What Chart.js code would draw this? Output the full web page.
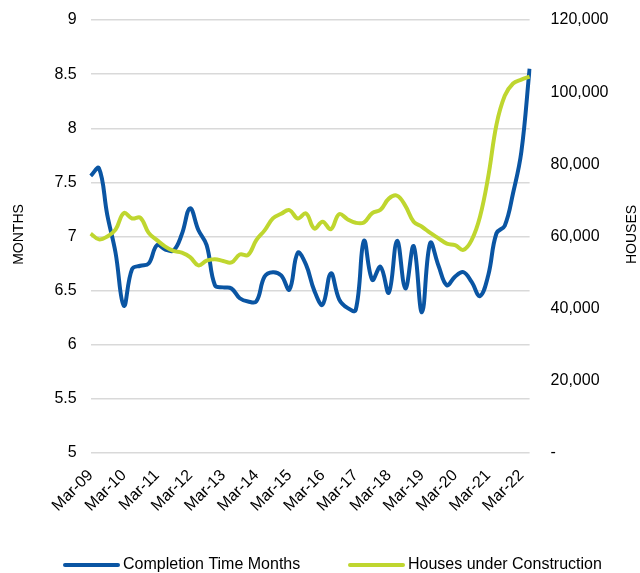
<!DOCTYPE html>
<html>
<head>
<meta charset="utf-8">
<script src="https://cdn.jsdelivr.net/npm/chart.js@4.4.0/dist/chart.umd.min.js"></script>
<style>
html,body{margin:0;padding:0;background:#ffffff;}
#wrap{width:640px;height:573px;position:relative;}
</style>
</head>
<body>
<div id="wrap"><canvas id="c" width="640" height="573"></canvas></div>
<script>
const categories = [
  'Mar-09','Jun-09','Sep-09','Dec-09','Mar-10','Jun-10','Sep-10','Dec-10',
  'Mar-11','Jun-11','Sep-11','Dec-11','Mar-12','Jun-12','Sep-12','Dec-12',
  'Mar-13','Jun-13','Sep-13','Dec-13','Mar-14','Jun-14','Sep-14','Dec-14',
  'Mar-15','Jun-15','Sep-15','Dec-15','Mar-16','Jun-16','Sep-16','Dec-16',
  'Mar-17','Jun-17','Sep-17','Dec-17','Mar-18','Jun-18','Sep-18','Dec-18',
  'Mar-19','Jun-19','Sep-19','Dec-19','Mar-20','Jun-20','Sep-20','Dec-20',
  'Mar-21','Jun-21','Sep-21','Dec-21','Mar-22','Jun-22'
];
const completionMonths = [
  7.56, 7.63, 7.20, 6.85, 6.36, 6.70, 6.73, 6.75,
  6.92, 6.88, 6.87, 7.02, 7.26, 7.06, 6.92, 6.55,
  6.53, 6.52, 6.43, 6.40, 6.40, 6.63, 6.67, 6.64,
  6.51, 6.85, 6.74, 6.50, 6.37, 6.66, 6.42, 6.34,
  6.32, 6.96, 6.60, 6.72, 6.48, 6.96, 6.52, 6.91,
  6.30, 6.94, 6.73, 6.55, 6.63, 6.67, 6.58, 6.45,
  6.64, 7.03, 7.10, 7.40, 7.78, 8.55
];
const housesUnderConstruction = [
  60800, 59200, 60000, 61900, 66500, 65000, 65200, 61000,
  59000, 57200, 56000, 55500, 54300, 52000, 53300, 53700,
  53200, 52800, 55000, 54900, 59000, 61700, 65000, 66300,
  67300, 65000, 66400, 62200, 64100, 62000, 66200, 64800,
  63800, 63900, 66500, 67400, 70500, 71300, 68500, 64100,
  62700, 61000, 59500, 58000, 57600, 56300, 59000, 65400,
  76500, 91000, 99000, 102400, 103500, 104300
];
const leftTickLabels = ['5', '5.5', '6', '6.5', '7', '7.5', '8', '8.5', '9'];
const rightTickLabels = ['-', '20,000', '40,000', '60,000', '80,000', '100,000', '120,000'];
const seriesNames = ['Completion Time Months', 'Houses under Construction'];
const axisTitles = ['MONTHS', 'HOUSES'];

const FONT = "'Liberation Sans', Arial, Helvetica, sans-serif";
const BLUE = '#0A55A3';
const GREEN = '#BFD62F';
const TEXT = '#000000';

// Axis titles (both read bottom-to-top) and the legend row
const decorPlugin = {
  id: 'decorPlugin',
  afterDraw(chart) {
    const ctx = chart.ctx;
    const area = chart.chartArea;
    ctx.save();
    ctx.font = '14px ' + FONT;
    ctx.fillStyle = TEXT;
    ctx.textAlign = 'center';
    ctx.textBaseline = 'middle';
    const cy = (area.top + area.bottom) / 2 - 2;
    [[axisTitles[0], 19.5], [axisTitles[1], 632.5]].forEach(([t, x]) => {
      ctx.save();
      ctx.translate(x, cy);
      ctx.rotate(-Math.PI / 2);
      ctx.fillText(t, 0, 0);
      ctx.restore();
    });
    // legend
    const ly = 565;
    const items = [
      { x: 65, color: chart.data.datasets[0].borderColor, text: chart.data.datasets[0].label },
      { x: 350, color: chart.data.datasets[1].borderColor, text: chart.data.datasets[1].label }
    ];
    ctx.font = '16px ' + FONT;
    ctx.textAlign = 'left';
    items.forEach(it => {
      ctx.beginPath();
      ctx.strokeStyle = it.color;
      ctx.lineWidth = 4;
      ctx.lineCap = 'round';
      ctx.moveTo(it.x, ly);
      ctx.lineTo(it.x + 53, ly);
      ctx.stroke();
      ctx.fillStyle = TEXT;
      ctx.fillText(it.text, it.x + 58, ly);
    });
    ctx.restore();
  }
};

new Chart(document.getElementById('c'), {
  type: 'line',
  data: {
    labels: categories,
    datasets: [
      {
        label: seriesNames[0], data: completionMonths, yAxisID: 'y',
        borderColor: BLUE, backgroundColor: BLUE, borderWidth: 4,
        pointRadius: 0, pointHoverRadius: 0, tension: 0.4, fill: false,
        borderJoinStyle: 'round', order: 1
      },
      {
        label: seriesNames[1], data: housesUnderConstruction, yAxisID: 'y1',
        borderColor: GREEN, backgroundColor: GREEN, borderWidth: 4,
        pointRadius: 0, pointHoverRadius: 0, tension: 0.4, fill: false,
        borderJoinStyle: 'round', order: 0
      }
    ]
  },
  options: {
    responsive: false,
    animation: false,
    devicePixelRatio: 1,
    layout: { padding: { left: 25, right: 0, top: 20, bottom: 20 } },
    scales: {
      x: {
        type: 'category', offset: false,
        grid: { display: false }, border: { display: false },
        ticks: {
          autoSkip: false, maxRotation: 45, minRotation: 45, padding: 5,
          color: TEXT, font: { family: FONT, size: 16 },
          callback: function (v, i) { const l = categories[i]; return l.startsWith('Mar') ? l : ''; }
        },
        afterFit: function (s) { s.height = 100; s.paddingLeft = 0; s.paddingRight = 0; }
      },
      y: {
        position: 'left', min: 5, max: 9,
        grid: { color: '#D9D9D9', lineWidth: 1.5, drawTicks: false },
        border: { display: false },
        ticks: {
          stepSize: 0.5, padding: 14, color: TEXT, font: { family: FONT, size: 16 },
          callback: function (v) { return leftTickLabels[Math.round((v - 5) / 0.5)]; }
        },
        afterFit: function (s) { s.width = 65.7; s.paddingTop = 0; s.paddingBottom = 0; }
      },
      y1: {
        position: 'right', min: 0, max: 120000,
        grid: { display: false, drawTicks: false }, border: { display: false },
        ticks: {
          stepSize: 20000, padding: 21, color: TEXT, font: { family: FONT, size: 16 },
          callback: function (v) { return rightTickLabels[Math.round(v / 20000)]; }
        },
        afterFit: function (s) { s.width = 110.4; s.paddingTop = 0; s.paddingBottom = 0; }
      }
    },
    plugins: {
      legend: { display: false },
      tooltip: { enabled: false }
    }
  },
  plugins: [decorPlugin]
});
</script>
</body>
</html>
